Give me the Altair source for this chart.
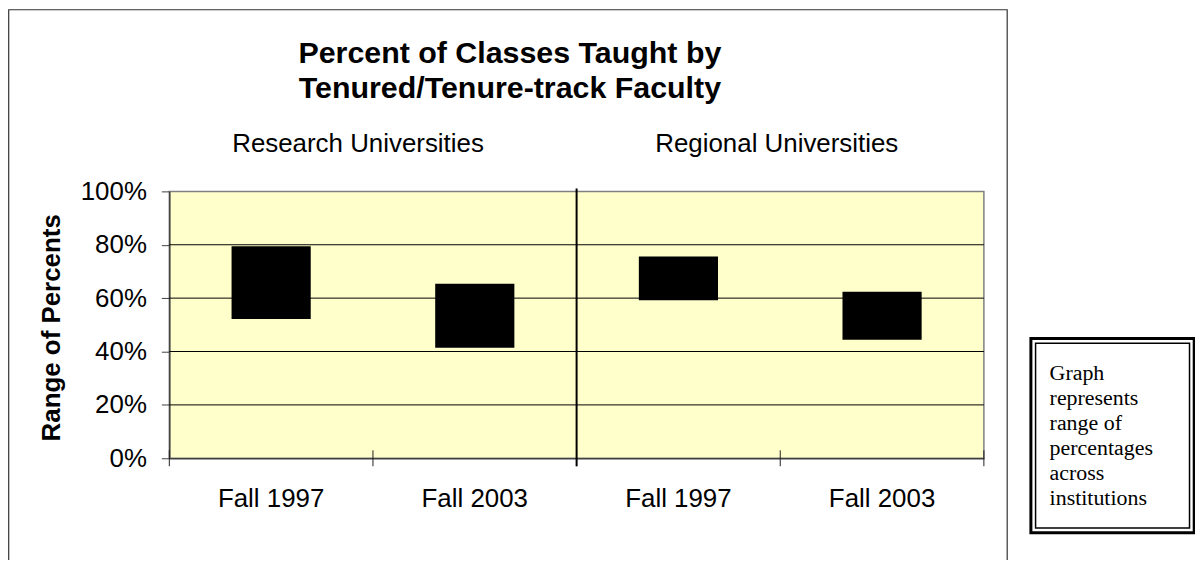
import altair as alt
import pandas as pd

# ---- data ----
groups = ["Research Universities", "Regional Universities"]
terms = ["Fall 1997", "Fall 2003"]
low_pct = [52.2, 41.4, 59.2, 44.4]
high_pct = [79.4, 65.4, 75.6, 62.4]
y_ticks = [0, 20, 40, 60, 80, 100]
grid_vals = [20, 40, 60, 80]
title_lines = ["Percent of Classes Taught by", "Tenured/Tenure-track Faculty"]
y_title = "Range of Percents"
note_lines = ["Graph", "represents", "range of", "percentages", "across", "institutions"]

cats = [f"{g}|{t}" for g in groups for t in terms]
bars = pd.DataFrame({"cat": cats, "low": low_pct, "high": high_pct})
grid_df = pd.DataFrame({"v": grid_vals})
tick_df = pd.DataFrame({"cat": cats})
end_df = pd.DataFrame({"cat": [cats[-1]]})
div_df = pd.DataFrame({"cat": [cats[2]]})
grp1 = pd.DataFrame({"cat": [cats[1]], "label": [groups[0]]})
grp2 = pd.DataFrame({"cat": [cats[3]], "label": [groups[1]]})
one = pd.DataFrame({"k": [0]})

FONT = "Liberation Sans"
W, H = 818, 268

xscale = alt.Scale(domain=cats, paddingInner=0, paddingOuter=0)

x_axis = alt.Axis(
    title=None, labelExpr="split(datum.label, '|')[1]", ticks=False,
    labelAngle=0, labelFontSize=26, labelFont=FONT, labelColor="black",
    labelPadding=27, domainColor="#404040", domainWidth=1.5, grid=False,
)
y_axis = alt.Axis(
    title=None, values=y_ticks, labelExpr="datum.value + '%'", grid=False,
    tickSize=8, tickColor="#404040", labelFontSize=26, labelFont=FONT,
    labelColor="black", labelPadding=15, domainColor="#404040", domainWidth=1.5,
)


def xenc(bp=None):
    if bp is None:
        return alt.X("cat:N", scale=xscale, axis=x_axis, sort=cats)
    return alt.X("cat:N", scale=xscale, axis=x_axis, sort=cats, bandPosition=bp)


base_bars = alt.Chart(bars).mark_bar(color="black", size=79.5).encode(
    x=xenc(),
    y=alt.Y("low:Q", scale=alt.Scale(domain=[0, 100]), axis=y_axis),
    y2="high:Q",
)

grid = alt.Chart(grid_df).mark_rule(color="black", strokeWidth=1).encode(
    y=alt.Y("v:Q", scale=alt.Scale(domain=[0, 100]), axis=y_axis),
    x=alt.value(0), x2=alt.value(W),
)

ticks = alt.Chart(tick_df).mark_rule(color="#202020", strokeWidth=1).encode(
    x=xenc(0), y=alt.value(H - 8), y2=alt.value(H + 8),
)
end_tick = alt.Chart(end_df).mark_rule(color="#202020", strokeWidth=1).encode(
    x=xenc(1), y=alt.value(H - 8), y2=alt.value(H + 8),
)
divider = alt.Chart(div_df).mark_rule(color="black", strokeWidth=2).encode(
    x=xenc(0), y=alt.value(-3), y2=alt.value(H + 8),
)

g1 = alt.Chart(grp1).mark_text(font=FONT, fontSize=26, baseline="alphabetic", dx=-15, color="black").encode(
    x=xenc(0), y=alt.value(-40), text="label:N"
)
g2 = alt.Chart(grp2).mark_text(font=FONT, fontSize=26, baseline="alphabetic", dx=-3.5, color="black").encode(
    x=xenc(0), y=alt.value(-40), text="label:N"
)

title = alt.Chart(one).mark_text(
    font=FONT, fontSize=30.5, fontWeight="bold", baseline="alphabetic", align="center",
    lineHeight=35.5, color="black",
).encode(x=alt.value(342), y=alt.value(-129), text=alt.value(title_lines))

ytitle = alt.Chart(one).mark_text(
    font=FONT, fontSize=26, fontWeight="bold", baseline="middle", align="center",
    angle=270, color="black",
).encode(x=alt.value(-118), y=alt.value(137), text=alt.value(y_title))

frame = alt.Chart(one).mark_rect(fill=None, stroke="#333333", strokeWidth=1.2).encode(
    x=alt.value(-161.3), x2=alt.value(841.4), y=alt.value(-182.4), y2=alt.value(600)
)

box_outer = alt.Chart(one).mark_rect(fill="white", stroke="black", strokeWidth=3).encode(
    x=alt.value(865.2), x2=alt.value(1029.2), y=alt.value(147.8), y2=alt.value(342.8)
)
box_inner = alt.Chart(one).mark_rect(fill=None, stroke="black", strokeWidth=1.5).encode(
    x=alt.value(869.9), x2=alt.value(1024.5), y=alt.value(152.5), y2=alt.value(338.1)
)
note = alt.Chart(one).mark_text(
    font="Liberation Serif", fontSize=22, baseline="alphabetic", align="left",
    lineHeight=25.2, color="black",
).encode(x=alt.value(884), y=alt.value(189.3), text=alt.value(note_lines))

chart = alt.layer(
    frame, grid, base_bars, ticks, end_tick, divider, g1, g2, title, ytitle,
    box_outer, box_inner, note,
).properties(
    width=W, height=H,
    padding={"left": 162, "top": 183, "right": 212, "bottom": 101},
    autosize=alt.AutoSizeParams(type="none"),
    background="white",
).configure_view(
    fill="#FFFFCC", stroke="#808080", strokeWidth=1.5
)

chart.save("out.html", embed_options={"renderer": "svg", "actions": False})
